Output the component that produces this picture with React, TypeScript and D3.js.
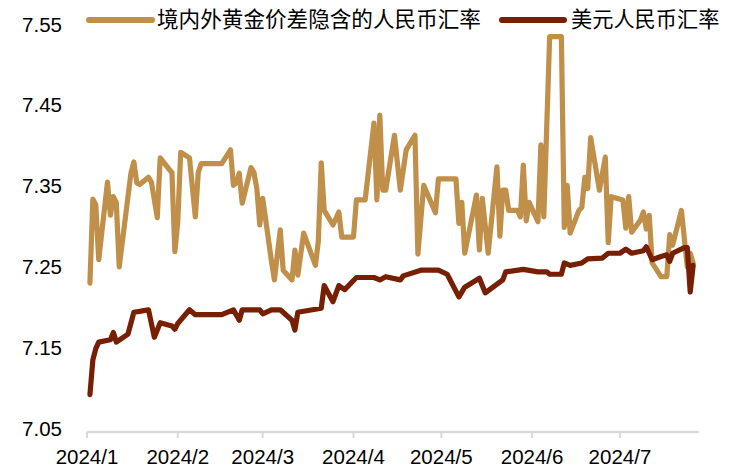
import React from "react";
import * as d3 from "d3";

const goldDates = [
  "2024-01-02","2024-01-03","2024-01-04","2024-01-05","2024-01-08","2024-01-09","2024-01-10","2024-01-11","2024-01-12",
  "2024-01-16","2024-01-17","2024-01-18","2024-01-19","2024-01-22","2024-01-23","2024-01-25","2024-01-26","2024-01-29",
  "2024-01-30","2024-01-31","2024-02-01","2024-02-02","2024-02-05","2024-02-07","2024-02-08","2024-02-09","2024-02-16",
  "2024-02-19","2024-02-20","2024-02-21","2024-02-22","2024-02-23","2024-02-26","2024-02-27","2024-02-28","2024-02-29",
  "2024-03-01","2024-03-04","2024-03-05","2024-03-07","2024-03-08","2024-03-11","2024-03-12","2024-03-13","2024-03-15",
  "2024-03-19","2024-03-20","2024-03-21","2024-03-22","2024-03-25","2024-03-27","2024-03-28","2024-04-01","2024-04-02",
  "2024-04-05","2024-04-08","2024-04-09","2024-04-10","2024-04-11","2024-04-12","2024-04-15","2024-04-17","2024-04-19",
  "2024-04-22","2024-04-23","2024-04-25","2024-04-29","2024-04-30","2024-05-06","2024-05-07","2024-05-08","2024-05-09",
  "2024-05-13","2024-05-14","2024-05-15","2024-05-17","2024-05-20","2024-05-21","2024-05-22","2024-05-23","2024-05-24",
  "2024-05-27","2024-05-28","2024-05-29","2024-05-30","2024-05-31","2024-06-03","2024-06-04","2024-06-05","2024-06-07",
  "2024-06-11","2024-06-12","2024-06-13","2024-06-14","2024-06-17","2024-06-18","2024-06-19","2024-06-20","2024-06-21",
  "2024-06-24","2024-06-26","2024-06-27","2024-06-28","2024-07-02","2024-07-03","2024-07-04","2024-07-05","2024-07-08",
  "2024-07-09","2024-07-10","2024-07-11","2024-07-12","2024-07-15","2024-07-17","2024-07-18","2024-07-19","2024-07-22",
  "2024-07-24","2024-07-25","2024-07-26"
];
const goldValues = [
  7.233,7.337,7.33,7.262,7.358,7.317,7.34,7.333,7.253,
  7.369,7.383,7.357,7.355,7.364,7.358,7.314,7.388,7.374,
  7.37,7.272,7.309,7.395,7.388,7.315,7.37,7.381,7.381,
  7.398,7.354,7.357,7.369,7.332,7.376,7.37,7.35,7.305,
  7.338,7.26,7.237,7.299,7.249,7.237,7.274,7.243,7.295,
  7.255,7.285,7.382,7.323,7.305,7.321,7.29,7.29,7.336,
  7.336,7.431,7.336,7.441,7.348,7.348,7.416,7.348,7.398,
  7.416,7.269,7.354,7.32,7.362,7.362,7.307,7.333,7.27,
  7.342,7.274,7.338,7.27,7.377,7.291,7.348,7.348,7.323,
  7.323,7.315,7.379,7.31,7.333,7.309,7.404,7.315,7.538,
  7.538,7.302,7.354,7.295,7.323,7.327,7.364,7.35,7.413,
  7.348,7.389,7.283,7.34,7.336,7.301,7.34,7.296,7.311,
  7.321,7.30,7.317,7.258,7.241,7.241,7.293,7.28,7.323,
  7.253,7.27,7.258
];

const usdDates = [
  "2024-01-02","2024-01-03","2024-01-04","2024-01-05","2024-01-09","2024-01-10","2024-01-11","2024-01-15","2024-01-17",
  "2024-01-19","2024-01-22","2024-01-24","2024-01-26","2024-01-30","2024-01-31","2024-02-01","2024-02-05","2024-02-07",
  "2024-02-16","2024-02-20","2024-02-22","2024-02-23","2024-02-29","2024-03-01","2024-03-04","2024-03-07","2024-03-11",
  "2024-03-12","2024-03-13","2024-03-18","2024-03-21","2024-03-22","2024-03-25","2024-03-27","2024-03-29","2024-04-02",
  "2024-04-08","2024-04-10","2024-04-12","2024-04-17","2024-04-18","2024-04-24","2024-04-30","2024-05-03","2024-05-07",
  "2024-05-09","2024-05-14","2024-05-16","2024-05-22","2024-05-23","2024-05-29","2024-06-03","2024-06-06","2024-06-07",
  "2024-06-11","2024-06-12","2024-06-14","2024-06-18","2024-06-20","2024-06-25","2024-06-27","2024-07-01","2024-07-03",
  "2024-07-05","2024-07-09","2024-07-10","2024-07-12","2024-07-15","2024-07-17","2024-07-18","2024-07-19","2024-07-23",
  "2024-07-24","2024-07-25","2024-07-26"
];
const usdValues = [
  7.095,7.138,7.152,7.16,7.163,7.172,7.16,7.17,7.197,
  7.198,7.2,7.166,7.184,7.18,7.176,7.183,7.2,7.194,
  7.194,7.2,7.187,7.2,7.2,7.195,7.2,7.2,7.187,
  7.175,7.197,7.2,7.202,7.23,7.21,7.23,7.225,7.24,
  7.24,7.237,7.241,7.237,7.242,7.249,7.249,7.244,7.216,
  7.228,7.239,7.221,7.237,7.247,7.25,7.247,7.247,7.244,
  7.244,7.258,7.255,7.258,7.263,7.264,7.27,7.27,7.275,
  7.27,7.273,7.278,7.262,7.266,7.268,7.26,7.27,7.277,
  7.277,7.222,7.255
];

const yTicks = [7.05, 7.15, 7.25, 7.35, 7.45, 7.55];
const xTickDates = ["2024-01-01","2024-02-01","2024-03-01","2024-04-01","2024-05-01","2024-06-01","2024-07-01"];
const xTickLabels = ["2024/1","2024/2","2024/3","2024/4","2024/5","2024/6","2024/7"];
const seriesNames = ["境内外黄金价差隐含的人民币汇率", "美元人民币汇率"];
const seriesColors = ["#C08F4A", "#761F02"];

const parse = d3.timeParse("%Y-%m-%d");

export default function App() {
  const W = 731, H = 471;
  const x = d3.scaleTime()
    .domain([parse("2024-01-01")!, parse("2024-07-28")!])
    .range([87, 699]);
  const y = d3.scaleLinear().domain([7.05, 7.55]).range([431, 27]);

  const line = d3.line<[Date, number]>()
    .x(d => x(d[0]))
    .y(d => y(d[1]))
    .curve(d3.curveLinear);

  const gold: [Date, number][] = goldDates.map((d, i) => [parse(d)!, goldValues[i]]);
  const usd: [Date, number][] = usdDates.map((d, i) => [parse(d)!, usdValues[i]]);

  const latin = "'Liberation Sans', Arial, sans-serif";
  const cjk = "'Liberation Sans', 'Noto Sans CJK SC', sans-serif";

  return (
    <svg width={W} height={H} style={{ position: "absolute", left: 0, top: 0, background: "#fff" }}>
      {yTicks.map(t => (
        <text key={t} x={62} y={y(t) + 4.5} textAnchor="end" fontFamily={latin} fontSize={20.5} fill="#000">
          {t.toFixed(2)}
        </text>
      ))}
      <line x1={87} x2={699} y1={432} y2={432} stroke="#D9D9D9" strokeWidth={2.5} />
      {xTickDates.map((d, i) => {
        const xx = x(parse(d)!);
        return (
          <g key={d}>
            <line x1={xx} x2={xx} y1={432} y2={438} stroke="#D9D9D9" strokeWidth={2} />
            <text x={xx} y={464} textAnchor="middle" fontFamily={latin} fontSize={20.5} fill="#000">
              {xTickLabels[i]}
            </text>
          </g>
        );
      })}
      <path d={line(gold) || ""} fill="none" stroke={seriesColors[0]} strokeWidth={5.2} strokeLinejoin="round" strokeLinecap="round" />
      <path d={line(usd) || ""} fill="none" stroke={seriesColors[1]} strokeWidth={5.2} strokeLinejoin="round" strokeLinecap="round" />
      <line x1={89} x2={152} y1={20} y2={20} stroke={seriesColors[0]} strokeWidth={6} strokeLinecap="round" />
      <text x={157} y={26.5} fontFamily={cjk} fontSize={21.6} fill="#000">{seriesNames[0]}</text>
      <line x1={502} x2={564} y1={20} y2={20} stroke={seriesColors[1]} strokeWidth={6} strokeLinecap="round" />
      <text x={571} y={26.5} fontFamily={cjk} fontSize={21.2} fill="#000">{seriesNames[1]}</text>
    </svg>
  );
}
